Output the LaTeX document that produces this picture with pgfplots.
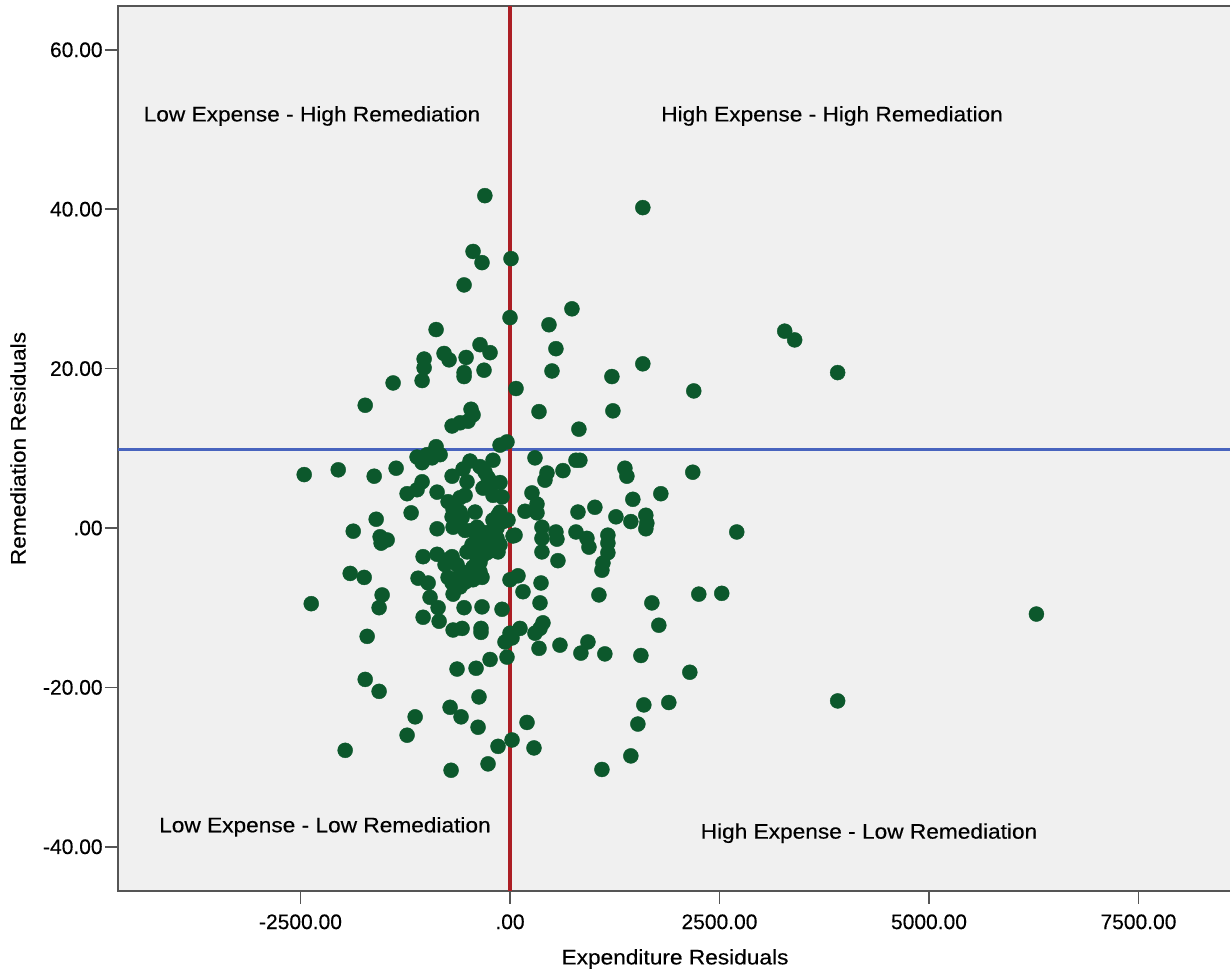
\documentclass[border=0pt]{standalone}
\usepackage{fontspec}
\setmainfont[FakeBold=0.35]{Liberation Sans}
\usepackage{pgfplots}
\pgfplotsset{compat=1.18}
\usepackage{pgfplotstable}

\definecolor{dotgreen}{RGB}{12,88,44}
\definecolor{zeroRed}{RGB}{172,30,36}
\definecolor{meanBlue}{RGB}{72,100,190}
\definecolor{panel}{RGB}{240,240,240}
\definecolor{frame}{RGB}{85,85,85}

% Residuals of expenditure (x) and remediation (y), one row per case
\pgfplotstableread{
x y
-300 41.7
1585 40.2
-441 34.7
-334 33.3
12 33.8
-548 30.5
0 26.4
739 27.5
465 25.5
-882 24.9
-358 23.0
-238 22.0
-787 21.9
-727 21.1
-524 21.4
-1025 21.2
-1025 20.1
-548 19.5
-548 19.0
-310 19.8
-1395 18.2
-1049 18.5
72 17.5
-1728 15.4
-465 14.9
-441 14.2
-501 13.4
-596 13.2
-691 12.8
-882 10.2
-36 10.8
-119 10.4
548 22.5
501 19.7
1585 20.6
1216 19.0
2193 17.2
346 14.6
1228 14.7
822 12.4
3278 24.7
3397 23.6
3910 19.5
298 8.8
787 8.5
834 8.5
-203 8.5
441 6.9
417 6.0
632 7.2
1371 7.5
1395 6.5
2181 7.0
262 4.4
322 3.0
179 2.1
1466 3.6
1800 4.3
1013 2.6
811 2.0
1264 1.4
1442 0.8
1621 1.6
1633 0.6
1621 -0.1
2706 -0.5
381 0.1
381 -1.3
548 -0.5
560 -1.4
787 -0.5
918 -1.3
942 -2.4
1168 -0.9
1168 -1.9
1168 -3.1
1109 -4.4
1097 -5.3
381 -3.0
572 -4.1
60 -0.9
0 -6.5
95 -6.0
155 -8.0
370 -6.9
358 -9.4
-95 -10.2
1061 -8.4
1693 -9.4
2253 -8.3
2527 -8.2
393 -11.9
358 -12.6
298 -13.2
119 -12.6
0 -13.2
-60 -14.3
24 -13.8
346 -15.1
596 -14.7
930 -14.3
846 -15.7
1132 -15.8
1562 -16.0
1776 -12.2
2146 -18.1
-36 -16.2
-238 -16.5
1597 -22.2
1895 -21.9
1526 -24.6
203 -24.4
-143 -27.4
24 -26.6
286 -27.6
1442 -28.6
1097 -30.3
3910 -21.7
6282 -10.8
-2372 -9.5
-1562 -10.0
-1037 -11.2
-858 -10.0
-846 -11.7
-548 -10.0
-334 -9.9
-679 -12.8
-572 -12.6
-346 -12.6
-346 -13.1
-1705 -13.6
-405 -17.6
-632 -17.7
-1728 -19.0
-1562 -20.5
-370 -21.2
-715 -22.5
-584 -23.7
-381 -25.0
-1132 -23.7
-1228 -26.0
-1967 -27.9
-703 -30.4
-262 -29.6
-2456 6.7
-2050 7.3
-1621 6.5
-1359 7.5
-1109 8.9
-989 9.2
-1049 8.2
-834 9.2
-930 8.8
-1049 5.8
-1109 4.8
-1228 4.3
-870 4.5
-1180 1.9
-691 6.5
-560 7.4
-477 8.4
-358 7.7
-298 7.0
-262 6.3
-215 5.7
-322 5.0
-203 4.1
-95 3.9
-513 5.8
-536 4.1
-596 3.8
-739 3.3
-679 2.3
-596 2.0
-691 1.4
-572 1.3
-679 0.1
-417 2.0
-143 1.6
-203 1.0
-83 0.8
-155 0.0
-24 1.0
-393 0.1
-334 -0.5
-262 -0.9
-155 -1.3
-322 -1.8
-393 -1.5
-513 -3.0
36 -1.0
-1597 1.1
-1871 -0.4
-1550 -1.1
-1466 -1.5
-1538 -1.9
-870 -0.1
-1037 -3.6
-870 -3.3
-751 -4.0
-691 -3.6
-775 -4.6
-632 -4.6
-572 -5.5
-620 -6.2
-536 -6.8
-596 -7.4
-691 -6.9
-739 -6.2
-441 -4.9
-393 -3.8
-322 -3.4
-358 -5.5
-334 -6.2
-441 -6.5
-262 -2.4
-203 -2.8
-143 -3.0
-1907 -5.7
-1740 -6.2
-1526 -8.4
-1097 -6.3
-977 -6.9
-954 -8.7
-679 -8.3
-119 5.7
-453 -0.3
-536 -0.3
-119 2.0
-215 -0.3
322 1.9
-453 -2.1
-358 -2.4
-274 -3.1
-358 -4.3
-119 -2.1
}\residuals

\newcommand{\wide}[1]{\scalebox{1.08}[1]{#1}}
\newcommand{\labelfont}{\fontsize{10.5}{12}\selectfont}

\begin{document}
\begin{tikzpicture}
\begin{axis}[
  name=ax,
  at={(0,0)}, anchor=south west,
  scale only axis,
  width=557pt, height=442.5pt,
  xmin=-4678, xmax=8616,
  ymin=-45.55, ymax=65.5,
  axis background/.style={fill=panel},
  axis line style={frame, line width=1pt},
  tick style={frame, line width=0.8pt},
  tick align=outside,
  major tick length=6.5pt,
  xtick pos=bottom, ytick pos=left,
  xtick={-2500,0,2500,5000,7500},
  xticklabels={-2500.00,.00,2500.00,5000.00,7500.00},
  ytick={-40,-20,0,20,40,60},
  yticklabels={-40.00,-20.00,.00,20.00,40.00,60.00},
  tick label style={font=\labelfont},
  yticklabel style={inner sep=1pt},
  xticklabel style={inner sep=2pt, yshift=-3pt},
]
\addplot[only marks, mark=*, mark size=3.75pt,
  mark options={draw=dotgreen, fill=dotgreen, line width=0.2pt}]
  table[x=x, y=y] {\residuals};

% reference lines: mean remediation residual and zero expenditure residual
\addplot[meanBlue, line width=1.5pt] coordinates {(-4678,9.9) (8616,9.9)};
\addplot[zeroRed, line width=2pt] coordinates {(0,-45.55) (0,65.5)};

\node[font=\labelfont] at (axis cs:-2363,51.7) {\wide{Low Expense - High Remediation}};
\node[font=\labelfont] at (axis cs:3843,51.7) {\wide{High Expense - High Remediation}};
\node[font=\labelfont] at (axis cs:-2208,-37.5) {\wide{Low Expense - Low Remediation}};
\node[font=\labelfont] at (axis cs:4284,-38.3) {\wide{High Expense - Low Remediation}};
\end{axis}

\node[font=\labelfont] at ([yshift=-34pt]ax.south) {\wide{Expenditure Residuals}};
\node[font=\labelfont, rotate=90] at ([xshift=-50pt]ax.west) {\wide{Remediation Residuals}};

\pgfresetboundingbox
\path[use as bounding box] ([xshift=-59pt,yshift=-39.5pt]ax.south west)
  rectangle ([xshift=-1pt,yshift=3pt]ax.north east);
\end{tikzpicture}
\end{document}
